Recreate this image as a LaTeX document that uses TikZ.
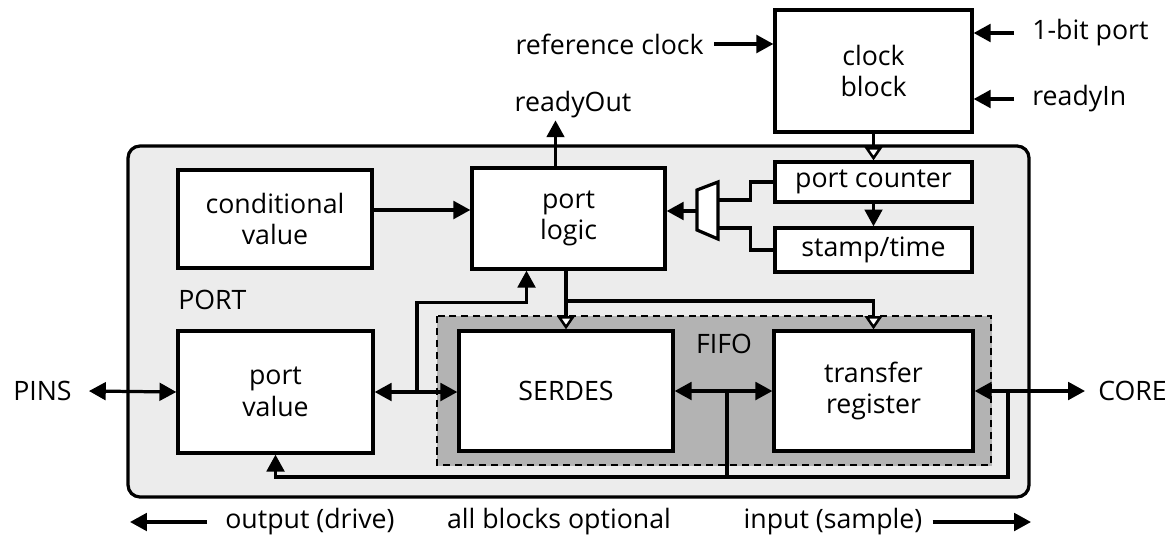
\documentclass[tikz,border=0pt]{standalone}
\usepackage{fontspec}
\setmainfont{Open Sans}
\usetikzlibrary{arrows.meta,calc}
\definecolor{portbg}{HTML}{ECECEC}
\definecolor{fifobg}{HTML}{B3B3B3}
\begin{document}
\begin{tikzpicture}[x=0.025cm,y=-0.025cm,
  txt/.style={font=\fontsize{19}{22.5}\selectfont},
  box/.style={draw, line width=2.3pt, fill=white, align=center, inner sep=0pt, txt},
  lbl/.style={inner sep=0pt, txt},
  conn/.style={line width=2.3pt},
  fa/.style={-{Triangle[length=12pt,width=12.5pt]}},
  da/.style={{Triangle[length=12pt,width=12.5pt]}-{Triangle[length=12pt,width=12.5pt]}},
  oa/.style={-{Triangle[open,fill=white,length=9.5pt,width=12.5pt,line width=1.8pt]}}
]
\useasboundingbox (0,0) rectangle (1174,538);

% outer PORT region
\draw[line width=2.3pt, fill=portbg, rounded corners=0.3cm] (128,146) rectangle (1029,497);
\node[lbl, anchor=west] (portlbl) at (178,300) {PORT};

% FIFO region
\draw[fifobg, fill=fifobg] (437,316) rectangle (991,465);
\draw[line width=1.1pt, dash pattern=on 5pt off 3.5pt] (437,316) rectangle (991,465);
\node[lbl] (fifolbl) at (724,344) {FIFO};

% blocks
\node[box, minimum width=4.925cm, minimum height=3.05cm] (clock) at (873.5,71) {clock\\block};
\node[box, minimum width=4.85cm, minimum height=2.45cm] (condval) at (275,219) {conditional\\value};
\node[box, minimum width=4.825cm, minimum height=2.525cm] (logic) at (568.5,218.5) {port\\logic};
\node[box, minimum width=4.925cm, minimum height=1.0cm] (counter) at (873.5,182) {port counter};
\node[box, minimum width=4.925cm, minimum height=1.1cm] (stamp) at (873.5,250) {stamp/time};
\node[box, minimum width=4.875cm, minimum height=3.05cm] (portval) at (275.5,392) {port\\value};
\node[box, minimum width=5.35cm, minimum height=3.0cm] (serdes) at (566,391) {SERDES};
\node[box, minimum width=4.975cm, minimum height=3.0cm] (transfer) at (873.5,391) {transfer\\register};

% mux
\draw[line width=2.3pt, fill=white] (697,190) -- (718,182) -- (718,239) -- (697,230) -- cycle;
\coordinate (muxout) at (697,211);
\coordinate (muxin1) at (718,200);
\coordinate (muxin2) at (718,228);

% outer labels
\node[lbl, anchor=east] (refclk) at (704,44) {reference clock};
\node[lbl, anchor=west] (onebit) at (1032,33) {1-bit port};
\node[lbl, anchor=west] (readyin) at (1032,99) {readyIn};
\node[lbl] (readyout) at (573,105) {readyOut};
\node[lbl, anchor=west] (pins) at (13,391) {PINS};
\node[lbl, anchor=west] (core) at (1098,391) {CORE};
\node[lbl, anchor=west] (outdrive) at (225,522) {output (drive)};
\node[lbl] (optional) at (559,522) {all blocks optional};
\node[lbl] (insample) at (833,522) {input (sample)};
\coordinate (la) at (130,522);
\coordinate (ra) at (1031,522);

% connectors: clock block
\draw[conn,fa] ($(refclk.east)+(10,0)$) -- (refclk.east -| clock.west);
\draw[conn,fa] ($(onebit.west)+(-18,0)$) -- (onebit.west -| clock.east);
\draw[conn,fa] ($(readyin.west)+(-18,0)$) -- (readyin.west -| clock.east);
\draw[conn,oa] (clock.south) -- (counter.north);
\draw[conn,fa] (counter.south) -- (stamp.north);

% mux
\draw[conn] (counter.west) -- ++(-23,0) |- (muxin1);
\draw[conn] (stamp.west) -- ++(-23,0) |- (muxin2);
\draw[conn,fa] (muxout) -- (muxout -| logic.east);

% port logic
\coordinate (cv) at ($(condval.east)+(0,-9)$);
\draw[conn,fa] (cv) -- (cv -| logic.west);
\draw[conn,fa] ($(logic.north)+(-13,0)$) -- ($(logic.north)+(-13,-46)$);
\draw[conn,oa] (serdes.north |- logic.south) -- (serdes.north);
\coordinate (j2) at (serdes.north |- 0,301);
\draw[conn,oa] (j2) -| (transfer.north);

% data path
\draw[conn,da] ($(pins.east)+(17,0)$) -- (portval.west);
\draw[conn,da] (portval.east) -- (portval.east -| serdes.west);
\coordinate (j1) at (417,392);
\draw[conn,fa] (j1) |- ($(logic.south)+(-42,32)$) -- ($(logic.south)+(-42,0)$);
\draw[conn,da] (serdes.east) -- (transfer.west);
\draw[conn,da] (transfer.east) -- ($(core.west)+(-13,0)$);
\coordinate (j3) at (727,391);
\coordinate (j4) at (1008,391);
\draw[conn] (j3) -- (727,477);
\draw[conn,fa] (j4) -- (1008,477) -| (portval.south);

% bottom direction arrows
\draw[conn,fa] ($(outdrive.west)+(-18,0)$) -- (la);
\draw[conn,fa] ($(insample.east)+(10,0)$) -- (ra);
\end{tikzpicture}
\end{document}
